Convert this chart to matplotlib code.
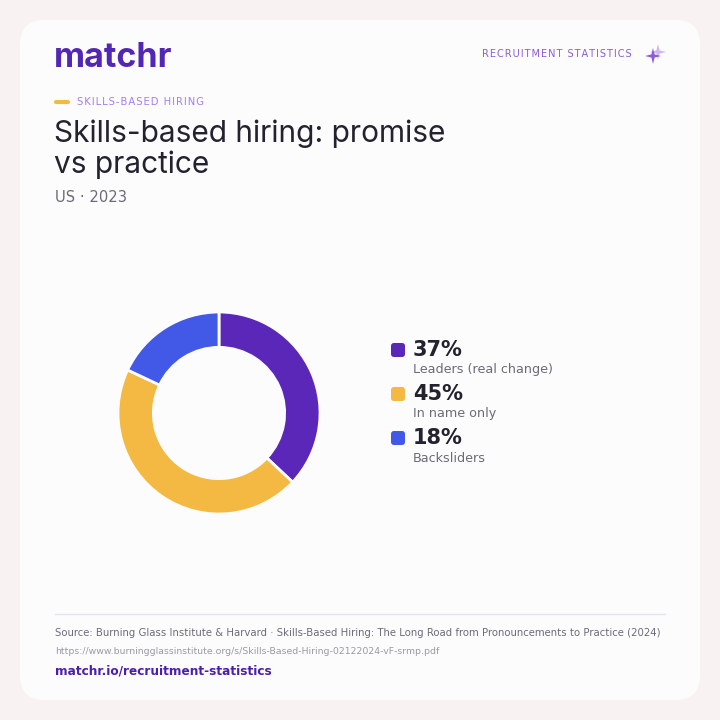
#importing required libraries
import matplotlib.pyplot as plt
from matplotlib.patches import FancyBboxPatch, Polygon
import numpy as np

#chart data
labels = ['Leaders (real change)', 'In name only', 'Backsliders']
shares = [37, 45, 18]
colors = ['#5b27b8', '#f4b942', '#4259e8']

title = 'Skills-based hiring: promise\nvs practice'
kicker = 'SKILLS-BASED HIRING'
subtitle = 'US \u00b7 2023'
source = ('Source: Burning Glass Institute & Harvard \u00b7 Skills-Based Hiring: '
          'The Long Road from Pronouncements to Practice (2024)')
source_url = 'https://www.burningglassinstitute.org/s/Skills-Based-Hiring-02122024-vF-srmp.pdf'
link = 'matchr.io/recruitment-statistics'

W = H = 720.0
def fx(x):
    return x / W
def fy(y):
    return 1 - y / H

fig = plt.figure(figsize=(7.2, 7.2), dpi=100)
fig.patch.set_facecolor('#f8f3f2')

#white card
card = FancyBboxPatch((fx(20), fy(700)), fx(680), 680 / H,
                      boxstyle='round,pad=0,rounding_size=0.035',
                      transform=fig.transFigure, facecolor='#fdfcfd',
                      edgecolor='none', zorder=-5)
fig.patches.append(card)

sans = ['Inter', 'DejaVu Sans']

#logo and header
fig.text(fx(54), fy(58), 'matchr', fontsize=24.5, fontweight='bold',
         color='#5327b5', family=sans, va='center', ha='left')
spaced = '\u200a'.join('RECRUITMENT STATISTICS')
fig.text(fx(632), fy(54), spaced, fontsize=7, color='#8a5cd6',
         family=['DejaVu Sans'], va='center', ha='right')

#sparkle icon
def star(cx, cy, r, color, alpha):
    pts = []
    for k in range(8):
        ang = np.pi / 2 + k * np.pi / 4
        rr = r if k % 2 == 0 else r * 0.28
        pts.append((fx(cx + rr * np.cos(ang)), fy(cy - rr * np.sin(ang))))
    fig.patches.append(Polygon(pts, closed=True, transform=fig.transFigure,
                               facecolor=color, edgecolor='none', alpha=alpha))
star(658, 52, 8, '#c9b0f5', 0.9)
star(653, 56, 8, '#8a5cd6', 1.0)

#kicker
fig.lines.append(plt.Line2D([fx(56), fx(68)], [fy(102), fy(102)],
                            transform=fig.transFigure, color='#f4b942',
                            lw=3, solid_capstyle='round'))
fig.text(fx(77), fy(102), '\u200a'.join(kicker), fontsize=7.2, color='#a67cf0',
         family=['DejaVu Sans'], va='center', ha='left')

#title and subtitle
fig.text(fx(54), fy(119), title, fontsize=21.5, color='#23222f', family=sans,
         va='top', ha='left', linespacing=1.15)
fig.text(fx(55), fy(198), subtitle, fontsize=10.6, color='#6b6b78',
         family=['DejaVu Sans'], va='center', ha='left')

#donut
ax = fig.add_axes([fx(118), fy(514), 202 / W, 202 / H])
ax.pie(shares, colors=colors, startangle=90, counterclock=False,
       radius=1, wedgeprops=dict(width=0.35, edgecolor='#fdfcfd', linewidth=2))
ax.set_xlim(-1, 1)
ax.set_ylim(-1, 1)
ax.set_aspect('equal')
ax.axis('off')

#legend
for i, (lab, val, col) in enumerate(zip(labels, shares, colors)):
    y0 = 350 + i * 44
    box = FancyBboxPatch((fx(391), fy(y0 + 7)), 14 / W, 14 / H,
                         boxstyle='round,pad=0,rounding_size=0.004',
                         transform=fig.transFigure, facecolor=col,
                         edgecolor='none')
    fig.patches.append(box)
    fig.text(fx(413), fy(y0), f'{val}%', fontsize=15, fontweight='bold',
             color='#23222f', va='center', ha='left')
    fig.text(fx(413), fy(y0 + 20), lab, fontsize=9.2, color='#6b6b78',
             va='center', ha='left')

#footer
fig.lines.append(plt.Line2D([fx(55), fx(665)], [fy(614), fy(614)],
                            transform=fig.transFigure, color='#e6e2f3', lw=1))
fig.text(fx(55), fy(633), source, fontsize=7.25, color='#6b6b78',
         va='center', ha='left')
fig.text(fx(55), fy(652), source_url, fontsize=6.75, color='#9a99a4',
         va='center', ha='left')
fig.text(fx(55), fy(671), link, fontsize=8.75, fontweight='bold',
         color='#4a1fae', va='center', ha='left')

#saving the generated plot
fig.savefig('out.png', dpi=100, facecolor=fig.get_facecolor())
